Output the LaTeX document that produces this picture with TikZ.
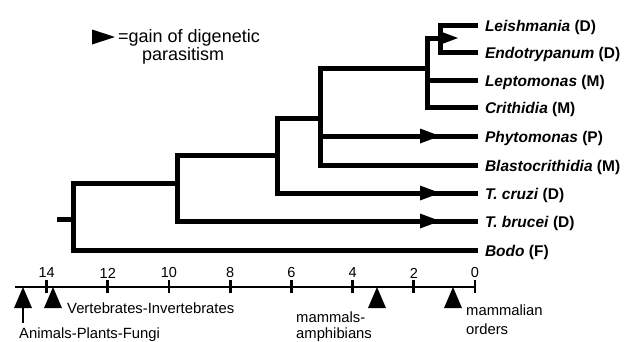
\documentclass[tikz,border=0pt]{standalone}
\usepackage{fontspec}
\setmainfont{Liberation Sans}
\begin{document}
\begin{tikzpicture}[x=1pt,y=-1pt,
  branch/.style={line width=5pt,line join=miter,line cap=rect},
  leaf/.style={anchor=west,inner sep=0pt,outer xsep=10pt,text height=13pt,text depth=0pt,font=\fontsize{15.5}{18}\selectfont\bfseries},
  lbl/.style={inner sep=0pt,anchor=base west,font=\fontsize{14.8}{17}\selectfont},
  num/.style={inner sep=0pt,font=\fontsize{14.5}{17}\selectfont},
  legendtext/.style={inner sep=0pt,anchor=base west,font=\fontsize{18}{20}\selectfont},
  axisline/.style={line width=2.8pt},
  gain/.pic={\fill (-20,-7.5) -- (0,0) -- (-20,7.5) -- cycle;},
  event/.pic={\fill (0,0) -- (9,21) -- (-9,21) -- cycle;}
]
\useasboundingbox (0,0) rectangle (625,341);

% leaves
\node[leaf] (leish)  at (475,25)  {\textit{Leishmania} (D)};
\node[leaf] (endo)   at (475,52)  {\textit{Endotrypanum} (D)};
\node[leaf] (lepto)  at (475,80)  {\textit{Leptomonas} (M)};
\node[leaf] (crith)  at (475,107) {\textit{Crithidia} (M)};
\node[leaf] (phyto)  at (475,136) {\textit{Phytomonas} (P)};
\node[leaf] (blasto) at (475,165) {\textit{Blastocrithidia} (M)};
\node[leaf] (tcru)   at (475,193) {\textit{T. cruzi} (D)};
\node[leaf] (tbru)   at (475,221) {\textit{T. brucei} (D)};
\node[leaf] (bodo)   at (475,250) {\textit{Bodo} (F)};

% internal nodes
\coordinate (stub) at (59,219);
\coordinate (root) at (73,219);
\coordinate (nB)   at (177,183);
\coordinate (nC)   at (277,155);
\coordinate (nP)   at (320,118);
\coordinate (nLLC) at (427,68);
\coordinate (nLE)  at (440,38);

\draw[branch] (stub) -- (root);
\draw[branch] (root) |- (nB) (root) |- (bodo.west);
\draw[branch] (nB) |- (nC) (nB) |- (tbru.west);
\draw[branch] (nC) |- (nP) (nC) |- (tcru.west);
\draw[branch] (nP) |- (nLLC) (nP) |- (phyto.west) (nP) |- (blasto.west);
\draw[branch] (nLLC) |- (nLE) (nLLC) |- (lepto.west) (nLLC) |- (crith.west);
\draw[branch] (nLE) |- (leish.west) (nLE) |- (endo.west);

% gains of digenetic parasitism
\pic at (458,38) {gain};
\pic at (440,136) {gain};
\pic at (440,193) {gain};
\pic at (440,221) {gain};

% legend
\pic[xscale=1.15] at (115,37) {gain};
\node[legendtext] (leg1) at (118,42.5) {=gain of digenetic};
\node[legendtext] (leg2) at (142,60.5) {parasitism};

% time axis
\coordinate (axL) at (15,287);
\coordinate (axR) at (475,287);
\draw[axisline] (axL) -- (axR);
\foreach \v in {0,2,...,14} {
  \draw[axisline] ({475-30.6*\v},280) -- ({475-30.6*\v},293);
  \node[num] (t\v) at ({475-30.6*\v},273) {\v};
}

% events
\pic at (23,287) {event};
\draw[line width=1.4pt] (23,308) -- (23,323);
\pic at (53,287) {event};
\pic at (377,287) {event};
\pic at (453,287) {event};

\node[lbl] (apf) at (19,338) {Animals-Plants-Fungi};
\node[lbl] (vi)  at (67,313) {Vertebrates-Invertebrates};
\node[lbl] (ma1) at (296,322) {mammals-};
\node[lbl] (ma2) at (296,338) {amphibians};
\node[lbl] (mo1) at (466,315) {mammalian};
\node[lbl] (mo2) at (466,334) {orders};
\end{tikzpicture}
\end{document}
